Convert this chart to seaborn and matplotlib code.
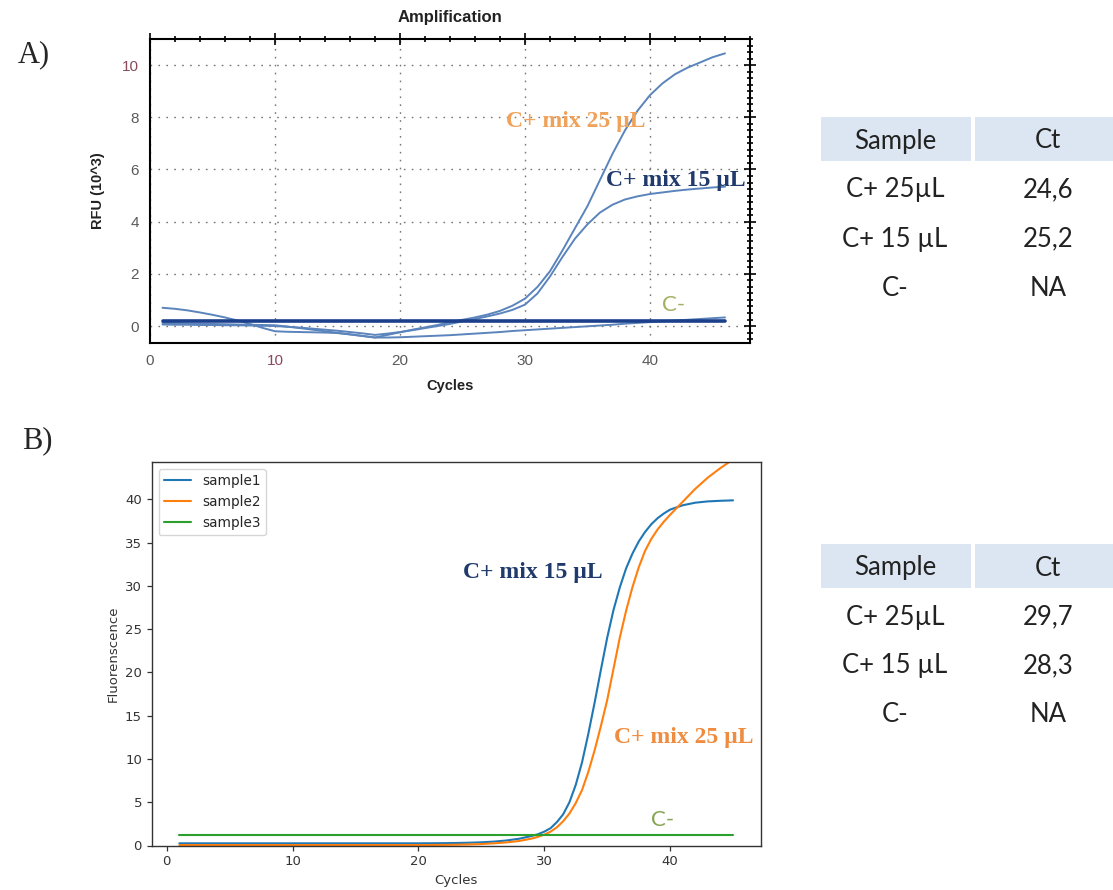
import numpy as np
import pandas as pd
import matplotlib
matplotlib.use("Agg")
import matplotlib.pyplot as plt
import seaborn as sns
from matplotlib.patches import Rectangle
from matplotlib.ticker import MultipleLocator

sns.set_style("white")
plt.rcParams['font.family'] = ['Liberation Sans', 'DejaVu Sans']

# ---- A) Bio-Rad style amplification (RFU x10^3) ----
cycles_a = list(range(1, 47))
rfu_25 = [0.70, 0.66, 0.60, 0.52, 0.43, 0.33, 0.21, 0.08, -0.07, -0.20,
          -0.22, -0.23, -0.24, -0.25, -0.27, -0.32, -0.38, -0.44, -0.34, -0.24,
          -0.14, -0.05, 0.04, 0.15, 0.24, 0.33, 0.44, 0.58, 0.78, 1.05,
          1.50, 2.10, 2.90, 3.75, 4.60, 5.60, 6.60, 7.50, 8.25, 8.85,
          9.30, 9.65, 9.90, 10.10, 10.30, 10.45]
rfu_15 = [0.06, 0.05, 0.05, 0.04, 0.04, 0.03, 0.03, 0.02, 0.01, 0.00,
          -0.03, -0.06, -0.10, -0.14, -0.18, -0.23, -0.28, -0.34, -0.29, -0.23,
          -0.16, -0.08, 0.00, 0.08, 0.18, 0.27, 0.37, 0.48, 0.62, 0.82,
          1.25, 1.90, 2.65, 3.35, 3.90, 4.35, 4.65, 4.85, 4.97, 5.06,
          5.12, 5.18, 5.23, 5.27, 5.31, 5.34]
rfu_neg = [0.12, 0.11, 0.10, 0.09, 0.08, 0.07, 0.06, 0.05, 0.04, 0.03,
           -0.02, -0.08, -0.14, -0.20, -0.26, -0.32, -0.38, -0.44, -0.44, -0.43,
           -0.41, -0.39, -0.37, -0.35, -0.32, -0.29, -0.26, -0.23, -0.19, -0.16,
           -0.13, -0.10, -0.07, -0.04, -0.01, 0.02, 0.05, 0.09, 0.12, 0.15,
           0.18, 0.21, 0.24, 0.27, 0.30, 0.33]
threshold_a = 0.2

# ---- B) python amplification (half-cycle readings on the steep part) ----
cycles_b = (list(range(1, 30))
            + [29.5, 30, 30.5, 31, 31.5, 32, 32.5, 33, 33.5, 34, 34.5, 35, 35.5,
               36, 36.5, 37, 37.5, 38, 38.5, 39, 39.5, 40]
            + [41, 42, 43, 44, 45])
fluo_s1 = ([0.25] * 20
           + [0.26, 0.27, 0.29, 0.32, 0.37, 0.45, 0.58, 0.78, 1.10]
           + [1.30, 1.60, 2.00, 2.70, 3.60, 5.00, 7.00, 9.60, 12.9, 16.5, 20.3,
              24.0, 27.2, 29.8, 32.0, 33.7, 35.1, 36.2, 37.1, 37.8, 38.35, 38.8]
           + [39.3, 39.6, 39.75, 39.82, 39.87])
fluo_s2 = ([0.05] * 20
           + [0.06, 0.07, 0.09, 0.12, 0.17, 0.25, 0.36, 0.52, 0.80]
           + [1.00, 1.25, 1.60, 2.10, 2.80, 3.70, 4.90, 6.40, 8.50, 11.0, 13.8,
              16.8, 20.4, 24.0, 27.1, 29.8, 32.1, 34.0, 35.4, 36.5, 37.4, 38.2]
           + [39.7, 41.2, 42.5, 43.6, 44.6])
neg_b_cycles = [1, 45]
fluo_s3 = [1.2, 1.2]

# ---- tables ----
table_cols = ['Sample', 'Ct']
table_samples = ['C+ 25µL', 'C+ 15 µL', 'C-']
ct_a = ['24,6', '25,2', 'NA']
ct_b = ['29,7', '28,3', 'NA']

W, H = 1113, 890
fig = plt.figure(figsize=(W / 100, H / 100), dpi=100)

def px_ax(l, t, r, b):
    return fig.add_axes([l / W, 1 - b / H, (r - l) / W, (b - t) / H])

# ================= A =================
ax1 = px_ax(150, 39, 750, 343)
df_a = pd.DataFrame({
    'cycle': cycles_a * 3,
    'rfu': rfu_25 + rfu_15 + rfu_neg,
    'sample': ['C+ 25'] * 46 + ['C+ 15'] * 46 + ['C-'] * 46,
})
curve_blue = '#5a84bb'
sns.lineplot(data=df_a, x='cycle', y='rfu', units='sample', estimator=None,
             color=curve_blue, lw=1.4, ax=ax1, legend=False)
ax1.plot([cycles_a[0], cycles_a[-1]], [threshold_a, threshold_a],
         color='#1b3f8b', lw=2.6, zorder=3)

ax1.set_xlim(0, 48)
ax1.set_ylim(-0.65, 11.0)
ax1.xaxis.set_major_locator(MultipleLocator(10))
ax1.xaxis.set_minor_locator(MultipleLocator(2))
ax1.yaxis.set_major_locator(MultipleLocator(2))
ax1.yaxis.set_minor_locator(MultipleLocator(0.25))
ax1.grid(True, which='major', color='#777777', linestyle=(0, (1.2, 4.5)), lw=1.0)
for s in ax1.spines.values():
    s.set_color('black')
    s.set_linewidth(1.5)
    s.set_visible(True)
ax1.tick_params(which='both', direction='inout', top=True, right=True,
                color='black', width=1.2, labelsize=11, labelcolor='#5a5a5a')
ax1.tick_params(which='major', length=9)
ax1.tick_params(which='minor', length=5)
for lab in ax1.get_xticklabels() + ax1.get_yticklabels():
    if lab.get_text() == '10':
        lab.set_color('#8a4a5c')
ax1.set_xlabel('Cycles', fontsize=10.5, fontweight='bold', color='#222222', labelpad=8)
ax1.set_ylabel('RFU (10^3)', fontsize=10.5, fontweight='bold', color='#222222', labelpad=12)
ax1.set_title('Amplification', fontsize=12, fontweight='bold', color='#222222', pad=12)

ax1.text(34.1, 7.82, 'C+ mix 25 µL', family='Liberation Serif', fontweight='bold',
         fontsize=17, color='#f0a25a', ha='center', va='center')
ax1.text(42.1, 5.56, 'C+ mix 15 µL', family='Liberation Serif', fontweight='bold',
         fontsize=17, color='#1f3a6b', ha='center', va='center')
ax1.text(41.9, 0.8, 'C-', family='Lato', fontsize=16, color='#a4b064',
         ha='center', va='center')

# ================= B =================
ax2 = px_ax(151.7, 462, 760.7, 845.5)
df_b = pd.DataFrame({
    'cycle': cycles_b * 2 + neg_b_cycles,
    'fluo': fluo_s1 + fluo_s2 + fluo_s3,
    'sample': (['sample1'] * len(cycles_b) + ['sample2'] * len(cycles_b)
               + ['sample3'] * len(neg_b_cycles)),
})
sns.lineplot(data=df_b, x='cycle', y='fluo', hue='sample',
             palette=['#1f77b4', '#ff7f0e', '#2ca02c'], lw=1.5, ax=ax2)
ax2.set_xlim(-1.2, 47.2)
ax2.set_ylim(0, 44.3)
ax2.set_yticks([0, 5, 10, 15, 20, 25, 30, 35, 40])
ax2.set_xticks([0, 10, 20, 30, 40])
for s in ax2.spines.values():
    s.set_color('#333333')
    s.set_linewidth(1.0)
    s.set_visible(True)
ax2.tick_params(direction='out', length=3.5, width=0.9, color='#333333',
                labelsize=9.5, labelcolor='#333333', left=True, bottom=True)
for lab in ax2.get_xticklabels() + ax2.get_yticklabels():
    lab.set_family('DejaVu Sans')
ax2.set_xlabel('Cycles', fontsize=9.5, family='DejaVu Sans', color='#333333')
ax2.set_ylabel('Fluorenscence', fontsize=9.5, family='DejaVu Sans', color='#333333')
leg = ax2.legend(loc='upper left', frameon=True,
                 prop={'family': 'DejaVu Sans', 'size': 9.8})
leg.get_frame().set_edgecolor('#cccccc')

ax2.text(29.1, 31.5, 'C+ mix 15 µL', family='Liberation Serif', fontweight='bold',
         fontsize=17, color='#1f3a6b', ha='center', va='center')
ax2.text(41.1, 12.5, 'C+ mix 25 µL', family='Liberation Serif', fontweight='bold',
         fontsize=17, color='#f08c40', ha='center', va='center')
ax2.text(39.4, 3.0, 'C-', family='Lato', fontsize=16, color='#86a552',
         ha='center', va='center')

# ================= panel letters and tables =================
axo = fig.add_axes([0, 0, 1, 1], zorder=-1)
axo.set_xlim(0, W)
axo.set_ylim(H, 0)
axo.set_axis_off()
axo.text(34, 55, 'A)', family='Liberation Serif', fontsize=22, ha='center', va='center')
axo.text(37, 441, 'B)', family='Liberation Serif', fontsize=22, ha='center', va='center')

hdr_color = '#dce6f2'
col_x = [895, 1048]
cell_edges = [(821, 971), (975, 1113)]
for top, cts in [(117, ct_a), (544, ct_b)]:
    for (x0, x1), name, cx in zip(cell_edges, table_cols, col_x):
        axo.add_patch(Rectangle((x0, top), x1 - x0, 44, color=hdr_color, lw=0))
        axo.text(cx, top + 24, name, family='Lato', fontsize=18.5, color='#222222',
                 ha='center', va='center')
    for i, (smp, ct) in enumerate(zip(table_samples, cts)):
        y = top + 73 + i * 49
        axo.text(col_x[0], y, smp, family='Lato', fontsize=18.5, color='#222222',
                 ha='center', va='center')
        axo.text(col_x[1], y, ct, family='Lato', fontsize=18.5, color='#222222',
                 ha='center', va='center')

fig.savefig('out.png', dpi=100)
